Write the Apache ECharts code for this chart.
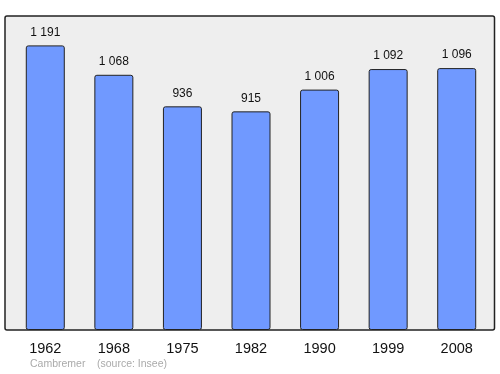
<!DOCTYPE html>
<html>
<head>
<meta charset="utf-8">
<script src="https://cdn.jsdelivr.net/npm/echarts@6/dist/echarts.min.js"></script>
<style>html,body{margin:0;padding:0;background:#fff;}#c{width:500px;height:374px;}</style>
</head>
<body>
<div id="c"></div>
<script>
const years = ['1962', '1968', '1975', '1982', '1990', '1999', '2008'];
const population = [1191, 1068, 936, 915, 1006, 1092, 1096];
const footerPlace = 'Cambremer';
const footerSource = '(source: Insee)';

function fmt(v) {
  return String(v).replace(/\B(?=(\d{3})+(?!\d))/g, ' ');
}

const FONT = '"Liberation Sans", Arial, sans-serif';
const chart = echarts.init(document.getElementById('c'), null, {renderer: 'canvas'});
chart.setOption({
  animation: false,
  backgroundColor: '#ffffff',
  graphic: [
    {
      type: 'rect', z: -10, silent: true,
      shape: {x: 5, y: 16, width: 489.5, height: 314, r: 2},
      style: {fill: '#eeeeee', stroke: '#222222', lineWidth: 1.5}
    },
    {
      type: 'text', left: 30, top: 359,
      style: {text: footerPlace, fill: '#aaaaaa', font: '10.5px ' + FONT}
    },
    {
      type: 'text', left: 97, top: 359,
      style: {text: footerSource, fill: '#aaaaaa', font: '10.5px ' + FONT}
    }
  ],
  grid: {left: 11, right: 9, top: 16, bottom: 44, containLabel: false},
  xAxis: {
    type: 'category',
    data: years,
    axisLine: {show: false},
    axisTick: {show: false},
    axisLabel: {color: '#111', fontSize: 14.5, margin: 11, fontFamily: FONT}
  },
  yAxis: {
    type: 'value', min: 0, max: 1314,
    show: false,
    splitLine: {show: false}
  },
  series: [{
    type: 'bar',
    data: population,
    barWidth: 39,
    itemStyle: {color: '#7099ff', borderColor: '#222222', borderWidth: 1, borderRadius: 2},
    label: {
      show: true, position: 'top', distance: 7,
      color: '#111', fontSize: 12, fontFamily: FONT,
      formatter: p => fmt(p.value)
    }
  }]
});
</script>
</body>
</html>
